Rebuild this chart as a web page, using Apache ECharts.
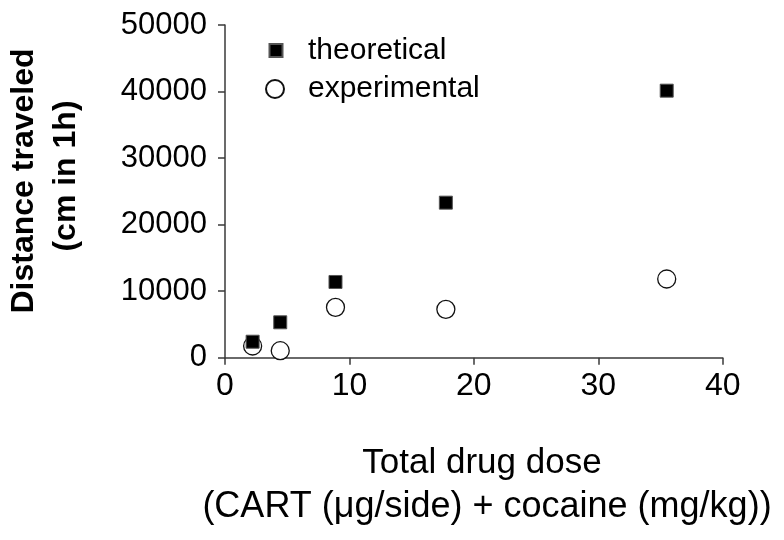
<!DOCTYPE html>
<html>
<head>
<meta charset="utf-8">
<script src="https://cdn.jsdelivr.net/npm/echarts@6/dist/echarts.min.js"></script>
<style>
html,body{margin:0;padding:0;background:#fff;}
#main{width:784px;height:540px;}
</style>
</head>
<body>
<div id="main"></div>
<script>
// ---- data ----
var doses = [2.22, 4.44, 8.88, 17.75, 35.5];
var theoretical = [2400, 5320, 11380, 23300, 40130];
var experimental = [1760, 1050, 7570, 7270, 11830];
var xTicks = [0, 10, 20, 30, 40];
var yTicks = [0, 10000, 20000, 30000, 40000, 50000];
var seriesNames = ['theoretical', 'experimental'];
var yTitle = ['Distance traveled', '(cm in 1h)'];
var xTitle = ['Total drug dose', '(CART (\u03bcg/side) + cocaine (mg/kg))'];

var FONT = '"Liberation Sans", Arial, Helvetica, sans-serif';
function pairs(xs, ys) { return xs.map(function (x, i) { return [x, ys[i]]; }); }

var chart = echarts.init(document.getElementById('main'), null, {renderer: 'canvas'});
var axisColor = '#3a3a3a';
chart.setOption({
  animation: false,
  backgroundColor: '#fff',
  grid: {left: 225, right: 61.3, top: 25, bottom: 182.3, containLabel: false},
  xAxis: {
    type: 'value', min: xTicks[0], max: xTicks[xTicks.length - 1], interval: xTicks[1] - xTicks[0],
    splitLine: {show: false},
    axisLine: {show: true, lineStyle: {color: axisColor, width: 1.5}},
    axisTick: {show: true, length: 7, lineStyle: {color: axisColor, width: 1.5}},
    axisLabel: {margin: 12, fontSize: 32, color: '#000', fontFamily: FONT,
      formatter: function (v) { return String(v); }}
  },
  yAxis: {
    type: 'value', min: yTicks[0], max: yTicks[yTicks.length - 1], interval: yTicks[1] - yTicks[0],
    splitLine: {show: false},
    axisLine: {show: true, lineStyle: {color: axisColor, width: 1.5}},
    axisTick: {show: true, length: 7, lineStyle: {color: axisColor, width: 1.5}},
    axisLabel: {margin: 18, fontSize: 31, color: '#000', fontFamily: FONT,
      formatter: function (v) { return String(v); }}
  },
  legend: [
    {data: [seriesNames[0]], orient: 'vertical', left: 268.5, top: 35.5, padding: 0,
     itemWidth: 13, itemHeight: 13,
     textStyle: {fontSize: 30, color: '#000', fontFamily: FONT, padding: [0, 0, 0, 20.5]}},
    {data: [seriesNames[1]], orient: 'vertical', left: 265, top: 74, padding: 0,
     itemWidth: 18, itemHeight: 18,
     textStyle: {fontSize: 30, color: '#000', fontFamily: FONT, padding: [0, 0, 0, 19]}}
  ],
  series: [
    {
      name: seriesNames[1], type: 'scatter', symbol: 'circle', symbolSize: 18, z: 2,
      itemStyle: {color: '#fff', borderColor: '#111', borderWidth: 1.3, opacity: 1},
      data: pairs(doses, experimental)
    },
    {
      name: seriesNames[0], type: 'scatter', symbol: 'rect', symbolSize: 13, z: 3,
      itemStyle: {color: '#000', borderColor: '#555', borderWidth: 1, opacity: 1},
      data: pairs(doses, theoretical)
    }
  ],
  graphic: [
    {type: 'text', x: 24.5, y: 181, rotation: Math.PI / 2,
     style: {text: yTitle[0], fill: '#000', font: 'bold 32px ' + FONT, textAlign: 'center', textVerticalAlign: 'middle'}},
    {type: 'text', x: 66.5, y: 176, rotation: Math.PI / 2,
     style: {text: yTitle[1], fill: '#000', font: 'bold 32px ' + FONT, textAlign: 'center', textVerticalAlign: 'middle'}},
    {type: 'text', x: 482, y: 463,
     style: {text: xTitle[0], fill: '#000', font: '35px ' + FONT, textAlign: 'center', textVerticalAlign: 'middle'}},
    {type: 'text', x: 487, y: 507,
     style: {text: xTitle[1], fill: '#000', font: '36px ' + FONT, textAlign: 'center', textVerticalAlign: 'middle'}}
  ]
});
</script>
</body>
</html>
